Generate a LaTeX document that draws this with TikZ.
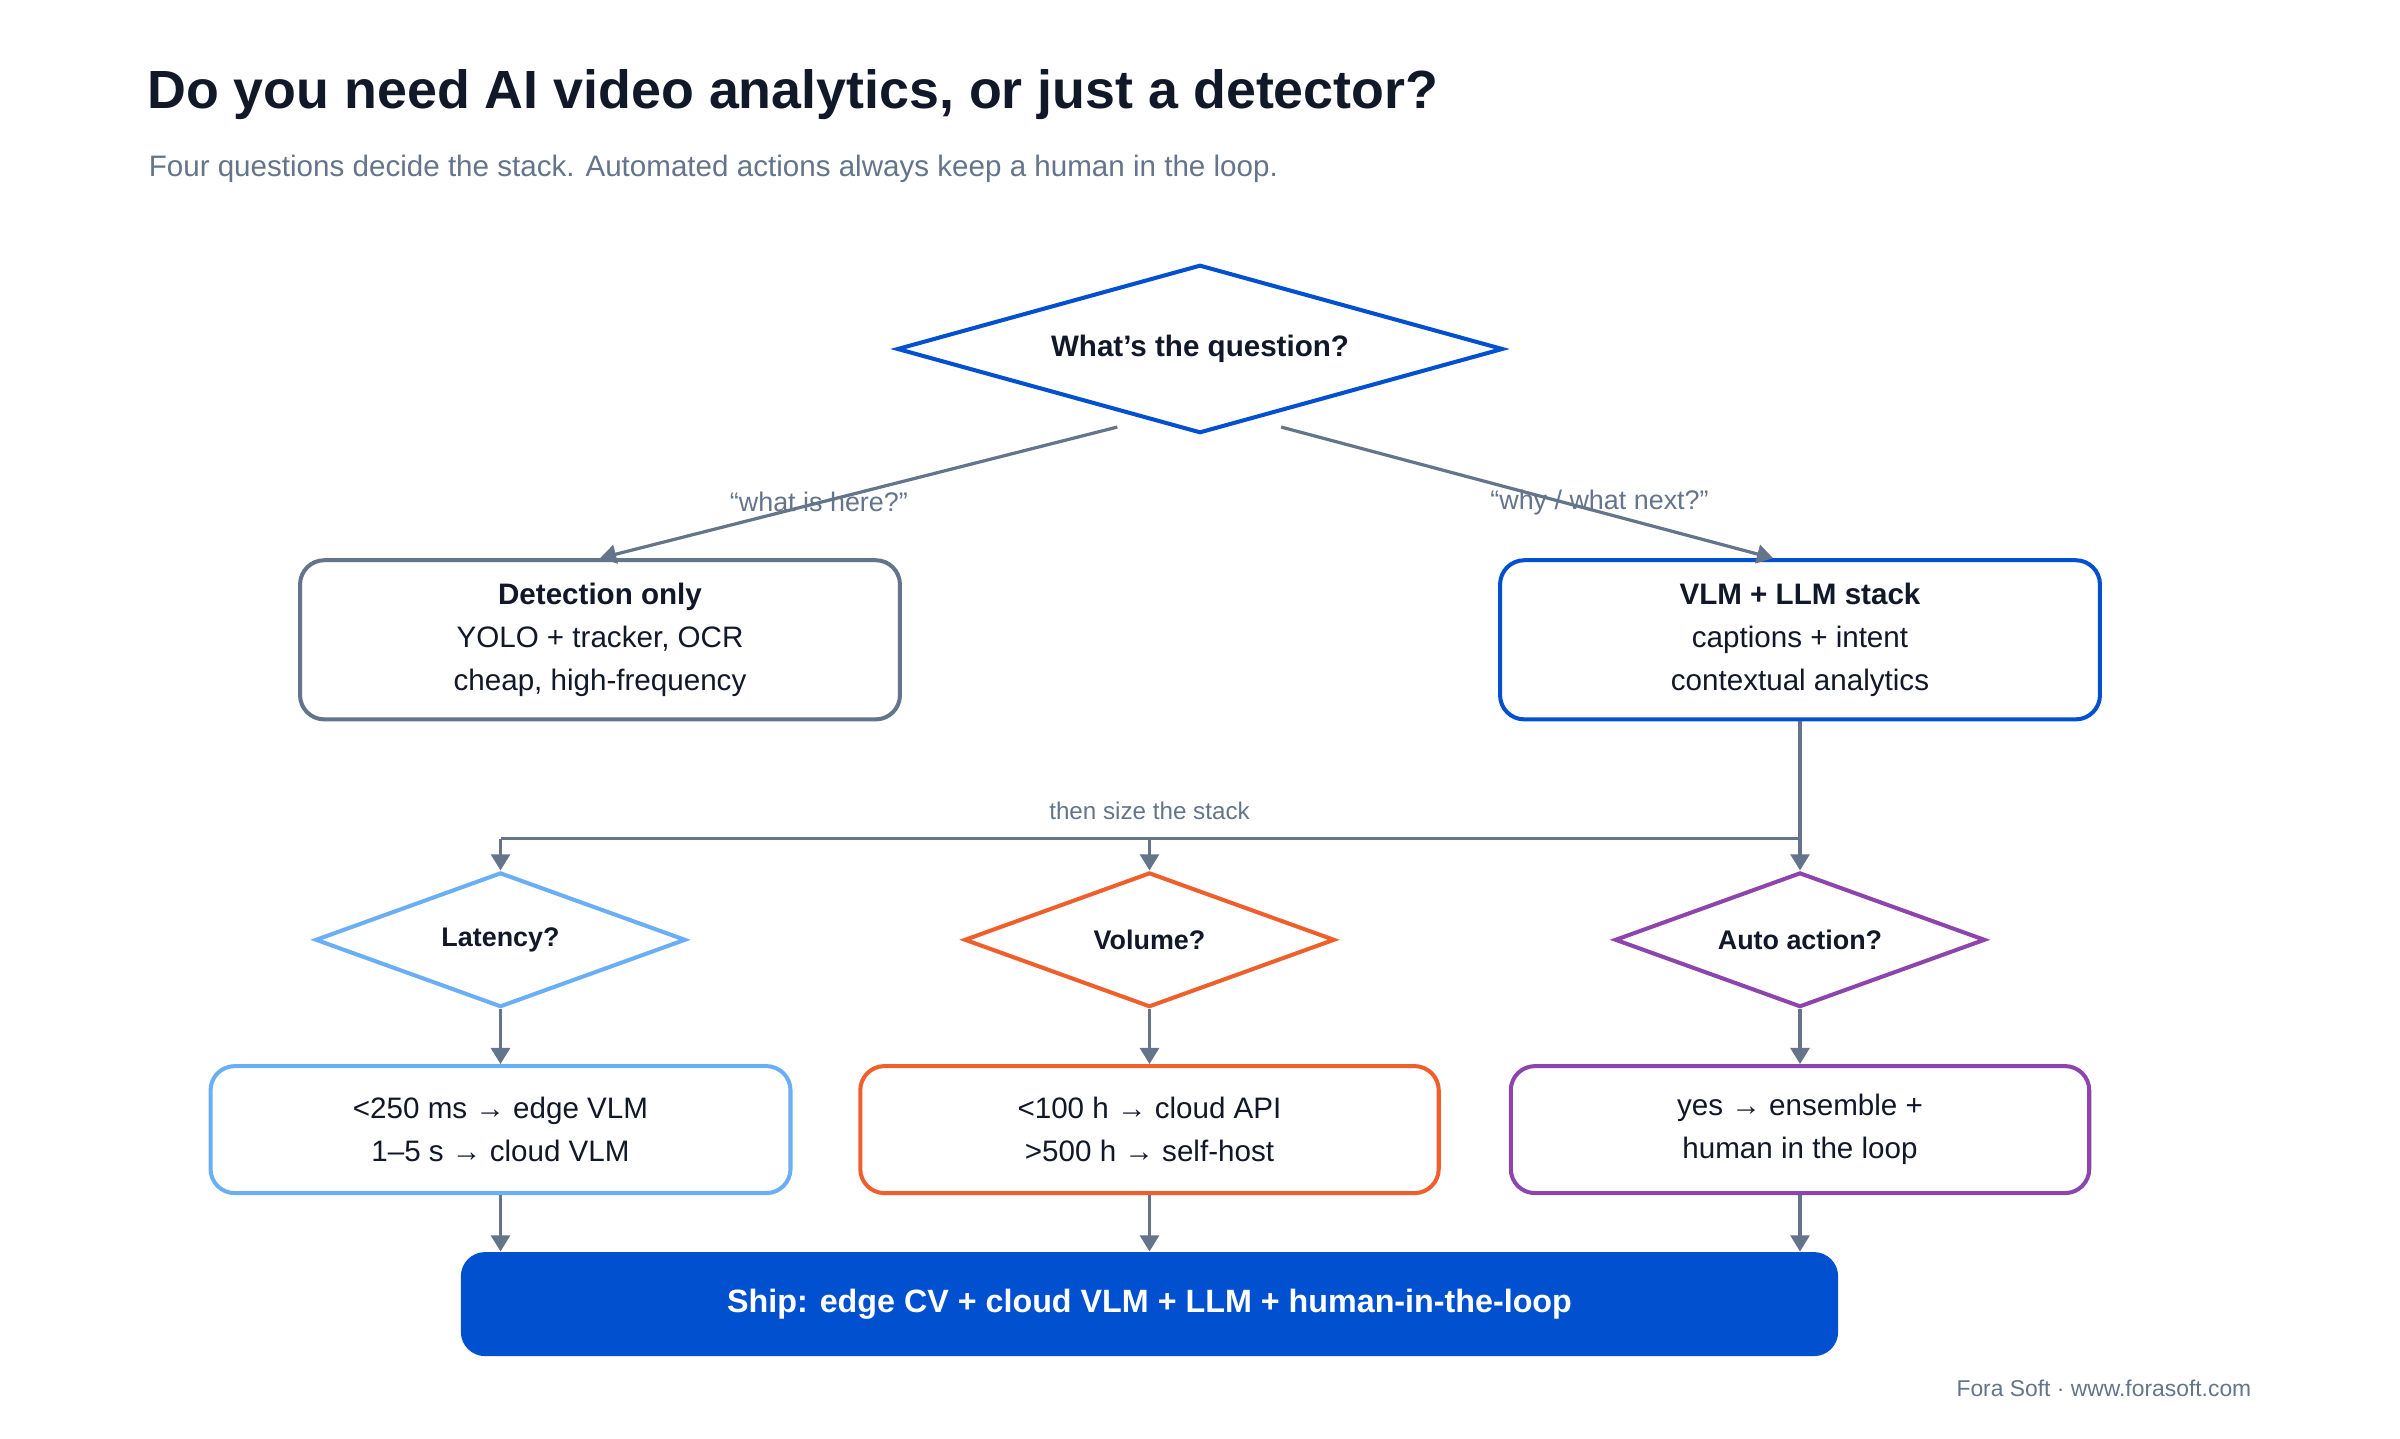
\documentclass[tikz,border=0pt]{standalone}
\usepackage{fontspec}
\setmainfont{Liberation Sans}
\usetikzlibrary{shapes.geometric,arrows.meta}
\definecolor{ink}{HTML}{111827}
\definecolor{slate}{HTML}{64748B}
\definecolor{brand}{HTML}{0050D0}
\definecolor{lblue}{HTML}{6AAEF5}
\definecolor{orng}{HTML}{EE5F2B}
\definecolor{purp}{HTML}{8E44AD}
\tikzset{
  conn/.style={draw=slate,line width=1.2pt,-{Triangle[length=6pt,width=7pt]}},
  plain/.style={draw=slate,line width=1.2pt},
  boxA/.style={rounded corners=9pt,line width=1.5pt,fill=white,align=center,text=ink,font=\fontsize{11}{16}\selectfont,inner sep=0pt},
  dia/.style={diamond,line width=1.5pt,fill=white,inner sep=0pt,text=ink,font=\bfseries\fontsize{10}{12}\selectfont},
  lab/.style={text=slate,font=\fontsize{9}{11}\selectfont}
}
\begin{document}
\begin{tikzpicture}[x=0.02cm,y=-0.02cm]
\useasboundingbox (0,0) rectangle (1568,940);
\node[anchor=west,text=ink,font=\bfseries\fontsize{20}{24}\selectfont] (title) at (90,62) {Do you need AI video analytics, or just a detector?};
\node[anchor=west,text=slate,font=\fontsize{11}{14}\selectfont] (sub) at (91,110) {Four questions decide the stack. Automated actions always keep a human in the loop.};

\node[dia,draw=brand,minimum width=7.92cm,minimum height=2.2cm,aspect=3.6,font=\bfseries\fontsize{11}{13}\selectfont] (q) at (784,228) {What's the question?};
\node[boxA,draw=slate,minimum width=7.84cm,minimum height=2.08cm] (det) at (392,418) {\textbf{Detection only}\\YOLO + tracker, OCR\\cheap, high-frequency};
\node[boxA,draw=brand,minimum width=7.84cm,minimum height=2.08cm] (vlm) at (1176,418) {\textbf{VLM + LLM stack}\\captions + intent\\contextual analytics};

\coordinate (qa) at (730,279);
\coordinate (qb) at (837,279);
\draw[conn] (qa) -- (det.north);
\draw[conn] (qb) -- ([xshift=-10]vlm.north);
\node[lab,font=\fontsize{10}{12}\selectfont] (l1) at (535,328) {“what is here?”};
\node[lab,font=\fontsize{10}{12}\selectfont] (l2) at (1045,328) {“why / what next?”};

\node[dia,draw=lblue,minimum width=4.84cm,minimum height=1.76cm,aspect=2.75] (d1) at (327,614) {Latency?};
\node[dia,draw=orng,minimum width=4.84cm,minimum height=1.76cm,aspect=2.75] (d2) at (751,614) {Volume?};
\node[dia,draw=purp,minimum width=4.84cm,minimum height=1.76cm,aspect=2.75] (d3) at (1176,614) {Auto action?};

\coordinate (split) at (1176,548);
\coordinate (h1) at (327,548);
\coordinate (h2) at (751,548);
\draw[plain] (vlm.south) -- (split) -- (h1);
\draw[conn] (h1) -- (d1.north);
\draw[conn] (h2) -- (d2.north);
\draw[conn] (split) -- (d3.north);
\node[lab] (l3) at (751,530) {then size the stack};

\node[boxA,draw=lblue,minimum width=7.58cm,minimum height=1.66cm] (b1) at (327,738) {<250 ms → edge VLM\\1–5 s → cloud VLM};
\node[boxA,draw=orng,minimum width=7.56cm,minimum height=1.66cm] (b2) at (751,738) {<100 h → cloud API\\>500 h → self-host};
\node[boxA,draw=purp,minimum width=7.56cm,minimum height=1.66cm] (b3) at (1176,738) {yes → ensemble +\\human in the loop};
\draw[conn] (d1.south) -- (b1.north);
\draw[conn] (d2.south) -- (b2.north);
\draw[conn] (d3.south) -- (b3.north);

\node[rounded corners=9pt,fill=brand,text=white,minimum width=18cm,minimum height=1.36cm,font=\bfseries\fontsize{12}{14}\selectfont] (ship) at (751,852) {Ship: edge CV + cloud VLM + LLM + human-in-the-loop};
\draw[conn] (b1.south) -- (b1.south |- ship.north);
\draw[conn] (b2.south) -- (b2.south |- ship.north);
\draw[conn] (b3.south) -- (b3.south |- ship.north);

\node[anchor=east,text=slate,font=\fontsize{8.5}{10}\selectfont] (foot) at (1477,907) {Fora Soft · www.forasoft.com};
\end{tikzpicture}
\end{document}
